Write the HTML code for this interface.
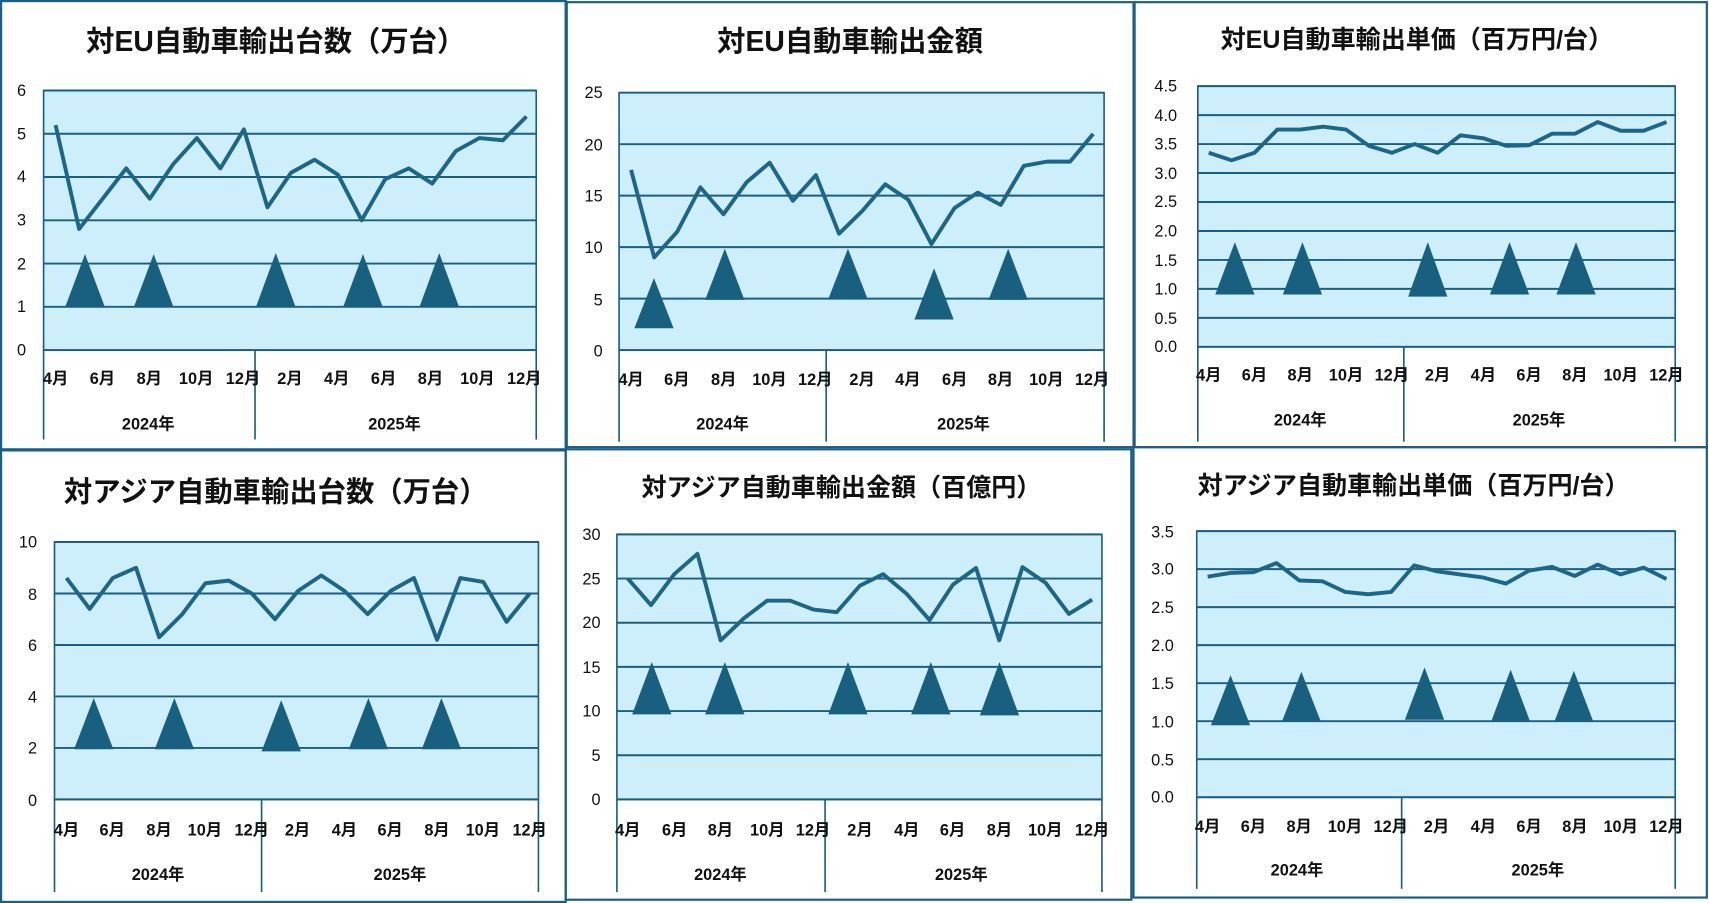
<!DOCTYPE html>
<html><head><meta charset="utf-8"><style>
html,body{margin:0;padding:0;background:#fff;}
svg{display:block;}
text{font-family:"Liberation Sans","Noto Sans CJK JP",sans-serif;fill:#111;}
.t{font-size:26px;font-weight:bold;text-anchor:middle;}
.ts{font-size:23px;font-weight:bold;text-anchor:middle;}
.y{font-size:15px;text-anchor:end;}
.m{font-size:15px;font-weight:bold;text-anchor:middle;}
</style></head><body>
<svg id="s" width="1709" height="903" viewBox="0 0 1568 828" preserveAspectRatio="none">
<g fill="none" stroke="#1b5e84" stroke-width="2">
<rect x="1" y="1" width="518" height="411"/>
<rect x="520" y="2" width="520" height="408"/>
<rect x="1041" y="2" width="525" height="408"/>
<rect x="1" y="413" width="518" height="414"/>
<rect x="519" y="412" width="519" height="413"/>
<rect x="1040" y="410" width="526" height="413"/>
</g>
<g id="charts"></g>
<text class="t" x="253" y="47">対EU自動車輸出台数（万台）</text>
<text class="t" x="780" y="47">対EU自動車輸出金額</text>
<text class="ts" x="1300" y="44">対EU自動車輸出単価（百万円/台）</text>
<text class="t" x="253" y="460">対アジア自動車輸出台数（万台）</text>
<text class="ts" x="772" y="455">対アジア自動車輸出金額（百億円）</text>
<text class="ts" x="1297" y="453">対アジア自動車輸出単価（百万円/台）</text>
<g class="y">
<text class="y" x="24" y="88">6</text><text class="y" x="24" y="128">5</text><text class="y" x="24" y="167">4</text><text class="y" x="24" y="207">3</text><text class="y" x="24" y="247">2</text><text class="y" x="24" y="286">1</text><text class="y" x="24" y="326">0</text>
<text class="y" x="553" y="90">25</text><text class="y" x="553" y="138">20</text><text class="y" x="553" y="185">15</text><text class="y" x="553" y="232">10</text><text class="y" x="553" y="280">5</text><text class="y" x="553" y="327">0</text>
<text class="y" x="1080" y="84">4.5</text><text class="y" x="1080" y="111">4.0</text><text class="y" x="1080" y="137">3.5</text><text class="y" x="1080" y="164">3.0</text><text class="y" x="1080" y="190">2.5</text><text class="y" x="1080" y="217">2.0</text><text class="y" x="1080" y="244">1.5</text><text class="y" x="1080" y="270">1.0</text><text class="y" x="1080" y="297">0.5</text><text class="y" x="1080" y="323">0.0</text>
<text class="y" x="34" y="502">10</text><text class="y" x="34" y="550">8</text><text class="y" x="34" y="597">6</text><text class="y" x="34" y="644">4</text><text class="y" x="34" y="691">2</text><text class="y" x="34" y="739">0</text>
<text class="y" x="551" y="495">30</text><text class="y" x="551" y="536">25</text><text class="y" x="551" y="576">20</text><text class="y" x="551" y="617">15</text><text class="y" x="551" y="657">10</text><text class="y" x="551" y="698">5</text><text class="y" x="551" y="738">0</text>
<text class="y" x="1077" y="493">3.5</text><text class="y" x="1077" y="527">3.0</text><text class="y" x="1077" y="562">2.5</text><text class="y" x="1077" y="597">2.0</text><text class="y" x="1077" y="632">1.5</text><text class="y" x="1077" y="667">1.0</text><text class="y" x="1077" y="702">0.5</text><text class="y" x="1077" y="736">0.0</text>
</g>
<g class="m">
<text class="m" x="51" y="352">4月</text><text class="m" x="94" y="352">6月</text><text class="m" x="137" y="352">8月</text><text class="m" x="180" y="352">10月</text><text class="m" x="223" y="352">12月</text><text class="m" x="266" y="352">2月</text><text class="m" x="309" y="352">4月</text><text class="m" x="352" y="352">6月</text><text class="m" x="395" y="352">8月</text><text class="m" x="438" y="352">10月</text><text class="m" x="481" y="352">12月</text>
<text class="m" x="136" y="394">2024年</text><text class="m" x="362" y="394">2025年</text>
<text class="m" x="579" y="353">4月</text><text class="m" x="621" y="353">6月</text><text class="m" x="664" y="353">8月</text><text class="m" x="706" y="353">10月</text><text class="m" x="748" y="353">12月</text><text class="m" x="791" y="353">2月</text><text class="m" x="833" y="353">4月</text><text class="m" x="876" y="353">6月</text><text class="m" x="918" y="353">8月</text><text class="m" x="960" y="353">10月</text><text class="m" x="1002" y="353">12月</text>
<text class="m" x="663" y="394">2024年</text><text class="m" x="884" y="394">2025年</text>
<text class="m" x="1109" y="349">4月</text><text class="m" x="1151" y="349">6月</text><text class="m" x="1193" y="349">8月</text><text class="m" x="1235" y="349">10月</text><text class="m" x="1277" y="349">12月</text><text class="m" x="1319" y="349">2月</text><text class="m" x="1361" y="349">4月</text><text class="m" x="1403" y="349">6月</text><text class="m" x="1445" y="349">8月</text><text class="m" x="1487" y="349">10月</text><text class="m" x="1529" y="349">12月</text>
<text class="m" x="1193" y="390">2024年</text><text class="m" x="1412" y="390">2025年</text>
<text class="m" x="61" y="766">4月</text><text class="m" x="103" y="766">6月</text><text class="m" x="146" y="766">8月</text><text class="m" x="188" y="766">10月</text><text class="m" x="231" y="766">12月</text><text class="m" x="273" y="766">2月</text><text class="m" x="316" y="766">4月</text><text class="m" x="358" y="766">6月</text><text class="m" x="401" y="766">8月</text><text class="m" x="443" y="766">10月</text><text class="m" x="486" y="766">12月</text>
<text class="m" x="145" y="807">2024年</text><text class="m" x="367" y="807">2025年</text>
<text class="m" x="576" y="766">4月</text><text class="m" x="619" y="766">6月</text><text class="m" x="661" y="766">8月</text><text class="m" x="704" y="766">10月</text><text class="m" x="746" y="766">12月</text><text class="m" x="789" y="766">2月</text><text class="m" x="832" y="766">4月</text><text class="m" x="874" y="766">6月</text><text class="m" x="917" y="766">8月</text><text class="m" x="959" y="766">10月</text><text class="m" x="1002" y="766">12月</text>
<text class="m" x="661" y="807">2024年</text><text class="m" x="882" y="807">2025年</text>
<text class="m" x="1108" y="763">4月</text><text class="m" x="1150" y="763">6月</text><text class="m" x="1192" y="763">8月</text><text class="m" x="1234" y="763">10月</text><text class="m" x="1276" y="763">12月</text><text class="m" x="1318" y="763">2月</text><text class="m" x="1361" y="763">4月</text><text class="m" x="1403" y="763">6月</text><text class="m" x="1445" y="763">8月</text><text class="m" x="1487" y="763">10月</text><text class="m" x="1529" y="763">12月</text>
<text class="m" x="1190" y="803">2024年</text><text class="m" x="1411" y="803">2025年</text>
</g>
</svg>
<script>
var C=[
{x0:40,x1:492,y0:83,y1:321,max:6,n:6,p0:51,p1:483,div:234,yb:403,
d:[5.2,2.8,3.5,4.2,3.5,4.3,4.9,4.2,5.1,3.3,4.1,4.4,4.05,3.0,3.95,4.2,3.85,4.6,4.9,4.85,5.4],
tr:[[78,281,233],[141,281,233],[253,281,232],[333,281,233],[403,281,232]]},
{x0:568,x1:1013,y0:85,y1:321,max:25,n:5,p0:579,p1:1003,div:758,yb:405,
d:[17.5,9,11.5,15.8,13.2,16.3,18.2,14.5,17,11.3,13.5,16.1,14.6,10.3,13.8,15.3,14.1,17.9,18.3,18.3,21],
tr:[[600,301,255],[665,275,228],[778,274,228],[857,293,246],[925,275,228]]},
{x0:1099,x1:1537,y0:79,y1:318,max:4.5,n:9,p0:1109,p1:1529,div:1288,yb:405,
d:[3.35,3.22,3.35,3.75,3.75,3.8,3.75,3.47,3.35,3.5,3.35,3.65,3.6,3.47,3.48,3.68,3.68,3.88,3.73,3.73,3.88],
tr:[[1133,270,222],[1195,270,222],[1310,272,222],[1385,270,222],[1446,270,222]]},
{x0:50,x1:494,y0:497,y1:733,max:10,n:5,p0:61,p1:486,div:240,yb:818,
d:[8.6,7.4,8.6,9.0,6.3,7.2,8.4,8.5,8.0,7.0,8.1,8.7,8.1,7.2,8.1,8.6,6.2,8.6,8.45,6.9,8.0],
tr:[[86,687,640],[160,687,640],[258,689,642],[338,687,640],[405,687,640]]},
{x0:566,x1:1011,y0:490,y1:733,max:30,n:6,p0:576,p1:1002,div:757,yb:818,
d:[25,22,25.5,27.8,18,20.5,22.5,22.5,21.5,21.2,24.2,25.5,23.3,20.3,24.3,26.2,18,26.3,24.5,21,22.6],
tr:[[598,655,607],[665,655,607],[778,655,607],[854,655,607],[917,656,607]]},
{x0:1098,x1:1537,y0:487,y1:731,max:3.5,n:7,p0:1108,p1:1529,div:1286,yb:815,
d:[2.9,2.95,2.96,3.08,2.85,2.84,2.7,2.67,2.7,3.05,2.97,2.93,2.89,2.81,2.98,3.03,2.91,3.06,2.93,3.02,2.87],
tr:[[1129,665,619],[1194,662,616],[1307,660,612],[1386,662,614],[1444,662,615]]}
];
var h='';
C.forEach(function(c){
 h+='<rect x="'+c.x0+'" y="'+c.y0+'" width="'+(c.x1-c.x0)+'" height="'+(c.y1-c.y0)+'" fill="#cdeefb" stroke="#1b5e84" stroke-width="1.5"/>';
 for(var i=0;i<=c.n;i++){var y=c.y1-(c.y1-c.y0)*i/c.n;h+='<line x1="'+c.x0+'" x2="'+c.x1+'" y1="'+y+'" y2="'+y+'" stroke="#1b5e84" stroke-width="1.8"/>';}
 [c.x0,c.div,c.x1].forEach(function(x){h+='<line x1="'+x+'" x2="'+x+'" y1="'+c.y1+'" y2="'+c.yb+'" stroke="#1b5e84" stroke-width="1.5"/>';});
 c.tr.forEach(function(t){h+='<polygon points="'+(t[0]-18)+','+t[1]+' '+(t[0]+18)+','+t[1]+' '+t[0]+','+t[2]+'" fill="#185f80"/>';});
 var pts=c.d.map(function(v,i){return (c.p0+(c.p1-c.p0)*i/20).toFixed(1)+','+(c.y1-(c.y1-c.y0)*v/c.max).toFixed(1);}).join(' ');
 h+='<polyline points="'+pts+'" fill="none" stroke="#1d6688" stroke-width="3.6" stroke-linejoin="round"/>';
});
document.getElementById('charts').innerHTML=h;
</script>
</body></html>
